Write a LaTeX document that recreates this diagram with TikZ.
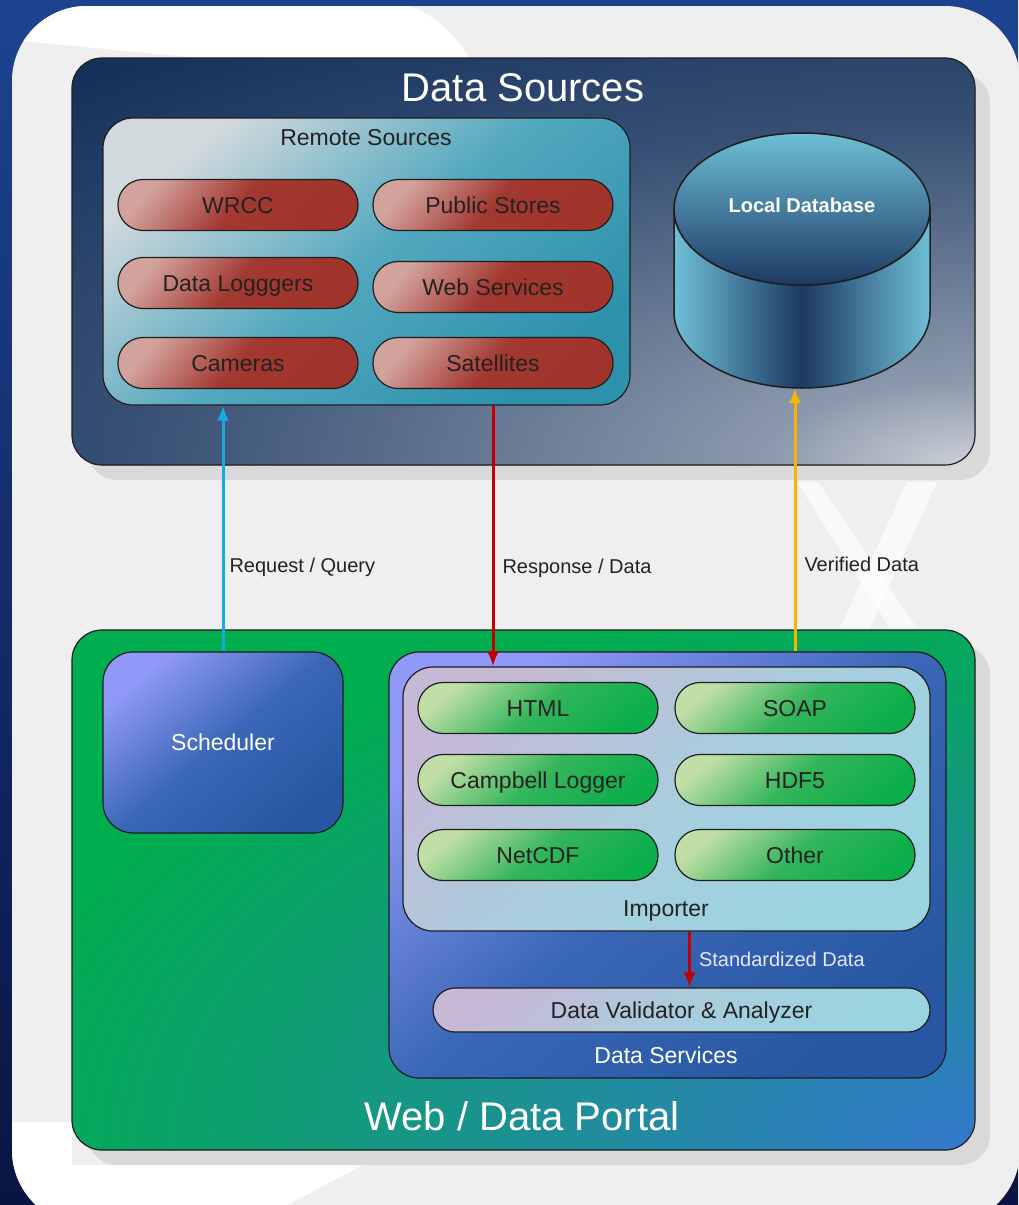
\documentclass[tikz,border=0pt]{standalone}
\usepackage{fontspec}
\setmainfont{Liberation Sans}
\usetikzlibrary{arrows.meta,shadows,positioning}
\definecolor{bgtop}{HTML}{1D4390}
\definecolor{bgbot}{HTML}{0A1442}
\definecolor{panel}{HTML}{EFEFEF}
\definecolor{edge}{HTML}{1E1E1E}
\definecolor{dsdark}{HTML}{15325D}
\definecolor{dslight}{HTML}{CDD1D7}
\colorlet{dsA}{dsdark!35!dslight}
\colorlet{dsB}{dsdark!62!dslight}
\colorlet{dsC}{dsdark!82!dslight}
\colorlet{dsD}{dsdark!93!dslight}
\definecolor{rslight}{HTML}{D2D9DD}
\definecolor{rsmid}{HTML}{52A8BE}
\definecolor{rsdark}{HTML}{2E91AC}
\definecolor{redlight}{HTML}{D2A29C}
\definecolor{redmid}{HTML}{A23830}
\definecolor{reddark}{HTML}{A0342B}
\definecolor{cyllight}{HTML}{6EBFD6}
\definecolor{cyldark}{HTML}{1D3964}
\definecolor{portgreen}{HTML}{00AD4F}
\definecolor{portblue}{HTML}{3478CD}
\definecolor{lilac}{HTML}{9099F7}
\definecolor{bluemid}{HTML}{3A67B7}
\definecolor{bluedark}{HTML}{2757A2}
\definecolor{lavender}{HTML}{C6B9D6}
\definecolor{icemid}{HTML}{A9CDDD}
\definecolor{ice}{HTML}{9AD4E1}
\definecolor{greenlight}{HTML}{C0DEA6}
\definecolor{greenmid}{HTML}{34B55B}
\definecolor{greendark}{HTML}{0CAE4B}
\definecolor{reqcol}{HTML}{19A9E1}
\definecolor{respcol}{HTML}{C00000}
\definecolor{vercol}{HTML}{F7B500}
\definecolor{lblcol}{HTML}{222222}
\pgfdeclareradialshading{dsglow}{\pgfpointorigin}{color(0bp)=(dslight); color(4bp)=(dsA);
  color(11bp)=(dsB); color(16.5bp)=(dsC); color(22bp)=(dsD); color(25bp)=(dsdark); color(50bp)=(dsdark)}
\tikzstyle{shadowed} = [drop shadow={shadow xshift=15pt,shadow yshift=-15pt,fill=black!15,opacity=1}]
\tikzstyle{box} = [draw=edge,line width=1.2pt,rounded corners=30pt,inner sep=0pt]
\tikzstyle{pill} = [draw=edge,line width=1.2pt,rounded corners=25pt,minimum width=240pt,minimum height=51pt,
    font=\fontsize{23}{27}\selectfont,text=lblcol,text height=16.5pt,text depth=0pt]
\tikzstyle{redpill} = [pill,top color=redlight,bottom color=reddark,middle color=redmid,shading angle=50]
\tikzstyle{greenpill} = [pill,top color=greenlight,bottom color=greendark,middle color=greenmid,shading angle=40]
\tikzstyle{bigtitle} = [text=white,font=\fontsize{40}{46}\selectfont]
\tikzstyle{boxtitle} = [font=\fontsize{23}{27}\selectfont,text height=16.5pt,text depth=0pt]
\tikzstyle{lbl} = [text=lblcol,font=\fontsize{20}{24}\selectfont,inner sep=2pt,text height=14.3pt,text depth=0pt]
\tikzstyle{link} = [line width=3pt,->]

\begin{document}
\begin{tikzpicture}[x=1pt,y=-1pt,>={Latex[length=15pt,width=12pt]}]
\useasboundingbox (0,0) rectangle (1018,1205);
%%% Slide background
\fill[top color=bgtop,bottom color=bgbot] (0,0) rectangle (1018,1205);
\fill[panel,rounded corners=75pt] (12,6) rectangle (1020,1225);
\begin{scope}
\clip[rounded corners=75pt] (12,6) rectangle (1020,1225);
\fill[white] (0,0) -- (390,0) .. controls (430,8) and (460,35) .. (475,70) -- (200,58) -- (12,40) -- cycle;
\fill[white] (0,1122) -- (72,1122) -- (72,1165) -- (363,1165) -- (240,1230) -- (0,1230) -- cycle;
\fill[white,opacity=0.65] (797,482) -- (818,482) -- (917,628) -- (890,628) -- cycle;
\fill[white,opacity=0.65] (907,482) -- (937,482) -- (870,628) -- (840,628) -- cycle;
\end{scope}

%%% Data sources
\node[box,shadowed,fill=dsdark,minimum width=903pt,minimum height=407pt,
  path picture={\shade[shading=dsglow]
    (path picture bounding box.south east) ellipse[x radius=1300pt,y radius=520pt];}] (ds) at (523.5,261.5) {};
\node[bigtitle] (dstitle) at (523,88) {Data Sources};
\node[box,minimum width=527pt,minimum height=287pt,
  top color=rslight,bottom color=rsdark,middle color=rsmid,shading angle=40] (rs) at (366.5,261.5) {};
\node[boxtitle,text=lblcol] (rstitle) at (366,137) {Remote Sources};
% Remote pills
\foreach \name/\txt/\x/\y in {wrcc/WRCC/238/205, pub/Public Stores/493/205,
    log/Data Logggers/238/283, web/Web Services/493/287,
    cam/Cameras/238/363, sat/Satellites/493/363} {
    \node[redpill] (\name) at (\x,\y) {\txt};
}
% Local database
\path[draw=edge,line width=1.5pt,left color=cyllight,right color=cyllight,middle color=cyldark]
  (674,209) -- (674,312) arc[start angle=180,end angle=360,x radius=128pt,y radius=76pt]
  -- (930,209) arc[start angle=0,end angle=-180,x radius=128pt,y radius=76pt] -- cycle;
\path[draw=edge,line width=1.5pt,top color=cyllight,bottom color=cyldark]
  (802,209) ellipse[x radius=128pt,y radius=76pt];
\node[text=white,font=\bfseries\fontsize{20}{24}\selectfont] (ldb) at (802,205) {Local Database};
\coordinate (ldbbase) at (802,388);

%%% Web / data portal
\node[box,shadowed,fill=portgreen,minimum width=903pt,minimum height=520pt,
  path picture={\shade[inner color=portblue,outer color=portgreen]
    (path picture bounding box.south east) ellipse[x radius=1000pt,y radius=560pt];}] (portal) at (523.5,890) {};
\node[bigtitle] (portaltitle) at (522,1116) {Web / Data Portal};
\node[box,minimum width=240pt,minimum height=181pt,text=white,font=\fontsize{23}{27}\selectfont,
  top color=lilac,bottom color=bluedark,middle color=bluemid,shading angle=40] (sched) at (223,742.5) {Scheduler};
\node[box,minimum width=557pt,minimum height=426pt,
  top color=lilac,bottom color=bluedark,middle color=bluemid,shading angle=40] (dsv) at (667.5,865) {};
\node[boxtitle,text=white] (dsvtitle) at (666,1055) {Data Services};
\node[box,minimum width=527pt,minimum height=264pt,
  top color=lavender,bottom color=ice,middle color=icemid,shading angle=40] (imp) at (666.5,799) {};
\node[boxtitle,text=lblcol] (imptitle) at (666,908) {Importer};
% Format pills
\foreach \name/\txt/\x/\y in {html/HTML/538/708, soap/SOAP/795/708,
    camp/Campbell Logger/538/780, hdf/HDF5/795/780,
    ncdf/NetCDF/538/855, other/Other/795/855} {
    \node[greenpill] (\name) at (\x,\y) {\txt};
}
\node[box,rounded corners=22pt,minimum width=497pt,minimum height=44pt,text=lblcol,
  font=\fontsize{23}{27}\selectfont,text height=16.5pt,text depth=0pt,
  top color=lavender,bottom color=ice,middle color=icemid,shading angle=40] (val) at (681.5,1010) {Data Validator \& Analyzer};

%%% Connectors
\draw[link,reqcol] (sched.north) -- (sched.north |- rs.south)
  node[lbl,pos=0.35,right=3pt] (reqlbl) {Request / Query};
\draw[link,respcol] (sat |- rs.south) -- (sat |- imp.north)
  node[lbl,pos=0.615,right=6pt] (resplbl) {Response / Data};
\draw[link,vercol] (soap |- dsv.north) -- (soap |- ldbbase)
  node[lbl,pos=0.33,right=6pt] (verlbl) {Verified Data};
\draw[link,respcol] ([xshift=8pt]val.north |- imp.south) -- ([xshift=8pt]val.north)
  node[lbl,pos=0.5,right=6pt,text=white!90!blue] (stdlbl) {Standardized Data};
\end{tikzpicture}
\end{document}
